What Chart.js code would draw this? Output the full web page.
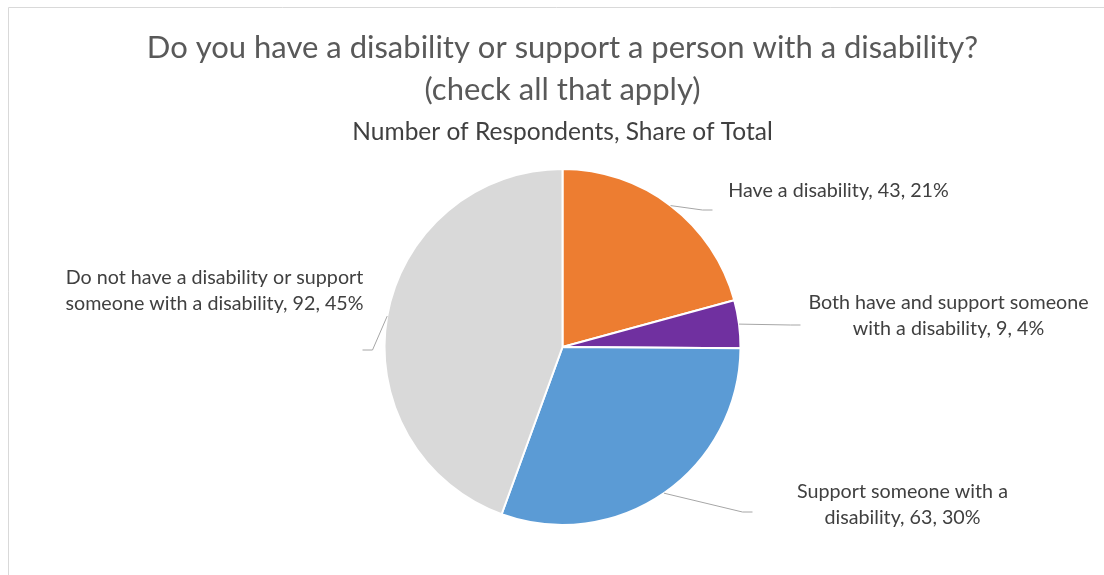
<!DOCTYPE html>
<html>
<head>
<meta charset="utf-8">
<script src="https://cdn.jsdelivr.net/npm/chart.js@4.4.0/dist/chart.umd.min.js"></script>
<style>
  html, body { margin: 0; padding: 0; background: #fff; }
  #wrap { width: 1104px; height: 575px; position: relative; }
</style>
</head>
<body>
<div id="wrap"><canvas id="myChart"></canvas></div>
<script>
// datos
const categories = [
  'Have a disability',
  'Both have and support someone with a disability',
  'Support someone with a disability',
  'Do not have a disability or support someone with a disability'
];
const respondents = [43, 9, 63, 92];
const shares = [21, 4, 30, 45]; // % as printed on the labels
const colores = ['#ED7D31', '#7030A0', '#5B9BD5', '#D9D9D9'];

// where each label sits, relative to the pie centre (px for a 178px radius)
const ubicaciones = [
  { lx: 276, ly: -156, ex: 150, ey: -137, ancho: 400 },
  { lx: 386, ly: -31, ex: 238, ey: -22, ancho: 300 },
  { lx: 340, ly: 158, ex: 190, ey: 165, ancho: 240 },
  { lx: -348, ly: -56, ex: -200, ey: 3, ancho: 320 }
];

const fuente = 'Lato, "Open Sans", sans-serif';

function partirTexto(ctx, texto, ancho) {
  const palabras = texto.split(' ');
  const lineas = [];
  let actual = '';
  palabras.forEach(p => {
    const prueba = actual ? actual + ' ' + p : p;
    if (ctx.measureText(prueba).width > ancho && actual) {
      lineas.push(actual);
      actual = p;
    } else {
      actual = prueba;
    }
  });
  if (actual) lineas.push(actual);
  return lineas;
}

const etiquetasPlugin = {
  id: 'etiquetas',
  beforeDraw(chart) {
    // marco gris del area del grafico
    const ctx = chart.ctx;
    ctx.save();
    ctx.strokeStyle = '#D9D9D9';
    ctx.lineWidth = 1;
    ctx.beginPath();
    ctx.moveTo(8.5, chart.height + 5);
    ctx.lineTo(8.5, 7.5);
    ctx.lineTo(chart.width + 5, 7.5);
    ctx.stroke();
    ctx.restore();
  },
  afterDatasetsDraw(chart) {
    const ctx = chart.ctx;
    const arcs = chart.getDatasetMeta(0).data;
    ctx.save();
    ctx.font = '19.7px ' + fuente;
    arcs.forEach((arc, i) => {
      const { x, y, startAngle, endAngle, outerRadius } =
        arc.getProps(['x', 'y', 'startAngle', 'endAngle', 'outerRadius'], true);
      const medio = (startAngle + endAngle) / 2;
      const px = x + Math.cos(medio) * outerRadius;
      const py = y + Math.sin(medio) * outerRadius;
      const k = outerRadius / 178;
      const u = ubicaciones[i];

      // linea guia
      const ex = x + u.ex * k;
      const ey = y + u.ey * k;
      const codoX = ex + (u.ex > 0 ? -10 : 10);
      ctx.strokeStyle = '#A6A6A6';
      ctx.lineWidth = 1;
      ctx.beginPath();
      ctx.moveTo(px, py);
      ctx.lineTo(codoX, ey);
      ctx.lineTo(ex, ey);
      ctx.stroke();

      // texto de la etiqueta
      const texto = `${categories[i]}, ${respondents[i]}, ${shares[i]}%`;
      const lineas = partirTexto(ctx, texto, u.ancho);
      const alto = 26;
      const cx = x + u.lx * k;
      const cy = y + u.ly * k;
      ctx.fillStyle = '#404040';
      ctx.textAlign = 'center';
      ctx.textBaseline = 'middle';
      lineas.forEach((l, j) => {
        ctx.fillText(l, cx, cy + (j - (lineas.length - 1) / 2) * alto);
      });
    });
    ctx.restore();
  }
};

const ctx = document.getElementById('myChart').getContext('2d');
const myChart = new Chart(ctx, {
  type: 'pie',
  data: {
    labels: categories,
    datasets: [{
      data: respondents,
      backgroundColor: colores,
      borderColor: '#FFFFFF',
      borderWidth: 2
    }]
  },
  options: {
    responsive: true,
    maintainAspectRatio: false,
    animation: false,
    layout: { padding: { left: 21, right: 0, top: 0, bottom: 49 } },
    plugins: {
      legend: { display: false },
      tooltip: { enabled: false },
      title: {
        display: true,
        text: ['Do you have a disability or support a person with a disability?', '(check all that apply)'],
        color: '#595959',
        font: { family: fuente, size: 31, weight: 'normal', lineHeight: 1.355 },
        padding: { top: 27, bottom: 6.3 }
      },
      subtitle: {
        display: true,
        text: 'Number of Respondents, Share of Total',
        color: '#404040',
        font: { family: fuente, size: 24.5, weight: 'normal', lineHeight: 1.2 },
        padding: { top: 0, bottom: 21.3 }
      }
    }
  },
  plugins: [etiquetasPlugin]
});
</script>
</body>
</html>
